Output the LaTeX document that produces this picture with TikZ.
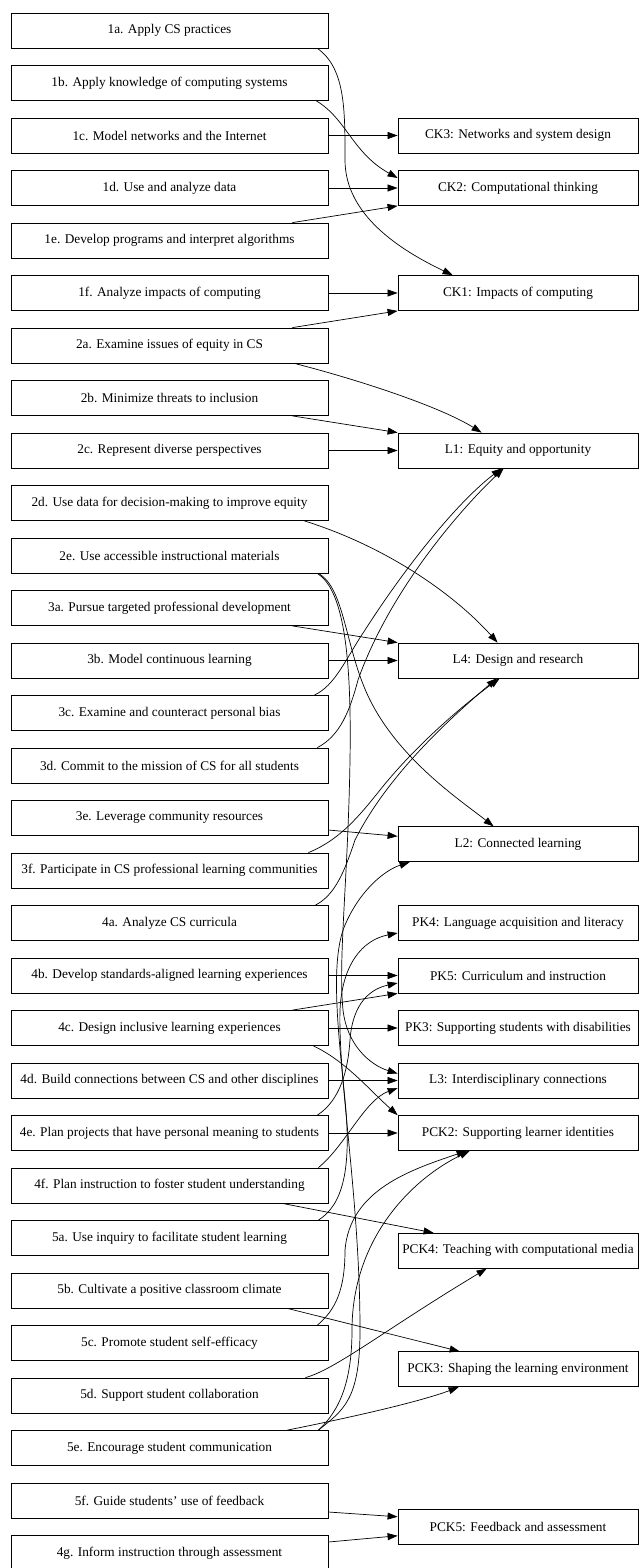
\documentclass[tikz,border=0pt]{standalone}
\usepackage{fontspec}
\setmainfont{Liberation Serif}
\usetikzlibrary{arrows.meta}
\begin{document}
\begin{tikzpicture}[x=1pt,y=-1pt,
  box/.style={draw=black, line width=0.8pt, minimum height=35pt, inner sep=0pt, font=\fontsize{13.3}{15}\selectfont},
  lbox/.style={box, minimum width=317pt},
  rbox/.style={box, minimum width=240pt},
  edge/.style={line width=0.7pt, -{Triangle[length=10pt,width=7pt]}}]
\useasboundingbox (0,0) rectangle (639,1568);
% left column
\node[lbox] (n1a) at (169.5,30.5)   {1a. Apply CS practices};
\node[lbox] (n1b) at (169.5,83)     {1b. Apply knowledge of computing systems};
\node[lbox] (n1c) at (169.5,135.5)  {1c. Model networks and the Internet};
\node[lbox] (n1d) at (169.5,188)    {1d. Use and analyze data};
\node[lbox] (n1e) at (169.5,240.5)  {1e. Develop programs and interpret algorithms};
\node[lbox] (n1f) at (169.5,293)    {1f. Analyze impacts of computing};
\node[lbox] (n2a) at (169.5,345.5)  {2a. Examine issues of equity in CS};
\node[lbox] (n2b) at (169.5,398)    {2b. Minimize threats to inclusion};
\node[lbox] (n2c) at (169.5,450.5)  {2c. Represent diverse perspectives};
\node[lbox] (n2d) at (169.5,503)    {2d. Use data for decision-making to improve equity};
\node[lbox] (n2e) at (169.5,555.5)  {2e. Use accessible instructional materials};
\node[lbox] (n3a) at (169.5,608)    {3a. Pursue targeted professional development};
\node[lbox] (n3b) at (169.5,660.5)  {3b. Model continuous learning};
\node[lbox] (n3c) at (169.5,713)    {3c. Examine and counteract personal bias};
\node[lbox] (n3d) at (169.5,765.5)  {3d. Commit to the mission of CS for all students};
\node[lbox] (n3e) at (169.5,818)    {3e. Leverage community resources};
\node[lbox] (n3f) at (169.5,870.5)  {3f. Participate in CS professional learning communities};
\node[lbox] (n4a) at (169.5,923)    {4a. Analyze CS curricula};
\node[lbox] (n4b) at (169.5,975.5)  {4b. Develop standards-aligned learning experiences};
\node[lbox] (n4c) at (169.5,1028)   {4c. Design inclusive learning experiences};
\node[lbox] (n4d) at (169.5,1080.5) {4d. Build connections between CS and other disciplines};
\node[lbox] (n4e) at (169.5,1133)   {4e. Plan projects that have personal meaning to students};
\node[lbox] (n4f) at (169.5,1185.5) {4f. Plan instruction to foster student understanding};
\node[lbox] (n5a) at (169.5,1238)   {5a. Use inquiry to facilitate student learning};
\node[lbox] (n5b) at (169.5,1290.5) {5b. Cultivate a positive classroom climate};
\node[lbox] (n5c) at (169.5,1343)   {5c. Promote student self-efficacy};
\node[lbox] (n5d) at (169.5,1395.5) {5d. Support student collaboration};
\node[lbox] (n5e) at (169.5,1448)   {5e. Encourage student communication};
\node[lbox] (n5f) at (169.5,1500.5) {5f. Guide students’ use of feedback};
\node[lbox] (n4g) at (169.5,1553)   {4g. Inform instruction through assessment};
% right column
\node[rbox] (ck3) at (518,135.5)   {CK3: Networks and system design};
\node[rbox] (ck2) at (518,188)     {CK2: Computational thinking};
\node[rbox] (ck1) at (518,293)     {CK1: Impacts of computing};
\node[rbox] (l1)  at (518,450.5)   {L1: Equity and opportunity};
\node[rbox] (l4)  at (518,660.5)   {L4: Design and research};
\node[rbox] (l2)  at (518,844.25)  {L2: Connected learning};
\node[rbox] (pk4) at (518,923)     {PK4: Language acquisition and literacy};
\node[rbox] (pk5) at (518,975.5)   {PK5: Curriculum and instruction};
\node[rbox] (pk3) at (518,1028)    {PK3: Supporting students with disabilities};
\node[rbox] (l3)  at (518,1080.5)  {L3: Interdisciplinary connections};
\node[rbox] (pck2) at (518,1133)   {PCK2: Supporting learner identities};
\node[rbox] (pck4) at (518,1250.75) {PCK4: Teaching with computational media};
\node[rbox] (pck3) at (518,1369.25) {PCK3: Shaping the learning environment};
\node[rbox] (pck5) at (518,1526.75) {PCK5: Feedback and assessment};
% straight edges
\draw[edge] (n1c.east) -- (ck3.west);
\draw[edge] (n1d.east) -- (ck2.west);
\draw[edge] (n1f.east) -- (ck1.west);
\draw[edge] (n2c.east) -- (l1.west);
\draw[edge] (n3b.east) -- (l4.west);
\draw[edge] (n4b.east) -- (pk5.west);
\draw[edge] (n4c.east) -- (pk3.west);
\draw[edge] (n4d.east) -- (l3.west);
\draw[edge] (n4e.east) -- (pck2.west);
\draw[edge] ([xshift=-36pt]n1e.north east) -- (ck2.south west);
\draw[edge] ([xshift=-36pt]n2a.north east) -- (ck1.south west);
\draw[edge] ([xshift=-36pt]n2b.south east) -- (l1.north west);
\draw[edge] ([xshift=-36pt]n3a.south east) -- (l4.north west);
\draw[edge] ([xshift=-36pt]n4c.north east) -- (pk5.south west);
\draw[edge] ([yshift=-12pt]n3e.east) -- ([yshift=8pt]l2.west);
\draw[edge] ([yshift=-11.5pt]n5f.east) -- ([yshift=10pt]pck5.west);
\draw[edge] ([yshift=11pt]n4g.east) -- ([yshift=-9pt]pck5.west);
\draw[edge] ([xshift=-46pt]n4f.south east) -- ([xshift=36pt]pck4.north west);
\draw[edge] ([xshift=-41pt]n5b.south east) -- ([xshift=62pt]pck3.north west);
\draw[edge] ([xshift=-41pt]n5e.north east) .. controls +(60,-12) and +(-40,15) .. ([xshift=61pt]pck3.south west);
% curved edges
\draw[edge] ([xshift=-11pt]n1a.south east) .. controls +(28,20) and (345,110) .. (345,160) .. controls (345,215) and (400,250) .. ([xshift=55pt]ck1.north west);
\draw[edge] ([xshift=-12pt]n1b.south east) .. controls +(30,18) and +(-45,-25) .. ([yshift=10pt]ck2.west);
\draw[edge] ([xshift=-34pt]n2a.south east) .. controls +(70,18) and +(-40,-25) .. ([xshift=84pt]l1.north west);
\draw[edge] ([xshift=-24pt]n2d.south east) .. controls +(80,25) and +(-45,-50) .. ([xshift=100pt]l4.north west);
\draw[edge] ([xshift=-10pt]n2e.south east) .. controls +(27,15) and (345,650) .. (370,700) .. controls (400,760) and (460,800) .. ([xshift=96pt]l2.north west);
\draw[edge] ([xshift=-11pt]n2e.south east) .. controls +(23,15) and (352,640) .. (350,760) .. controls (348,880) and (338,960) .. (343,1010) .. controls (347,1045) and (370,1065) .. ([yshift=7pt]l3.west);
\draw[edge] ([xshift=-14pt]n3c.north east) .. controls +(21,-10) and (345,660) .. (365,630) .. controls (410,560) and (460,500) .. ([xshift=104pt]l1.south west);
\draw[edge] ([xshift=-11pt]n3d.north east) .. controls +(23,-12) and (350,710) .. (358,680) .. controls (390,590) and (460,510) .. ([xshift=106pt]l1.south west);
\draw[edge] ([xshift=-20pt]n3f.north east) .. controls +(32,-13) and (360,815) .. (380,790) .. controls (420,740) and (470,700) .. ([xshift=102pt]l4.south west);
\draw[edge] ([xshift=-13pt]n4a.north east) .. controls +(20,-10) and (345,870) .. (355,840) .. controls (390,770) and (460,710) .. ([xshift=99pt]l4.south west);
\draw[edge] ([xshift=-15pt]n4c.south east) .. controls +(32,15) and +(-28,-25) .. (pck2.north west);
\draw[edge] ([xshift=-11pt]n4e.north east) .. controls +(23,-15) and (348,1070) .. (350,1040) .. controls (352,1010) and (365,990) .. ([yshift=-7.5pt]pk5.west);
\draw[edge] ([xshift=-10pt]n4f.north east) .. controls +(27,-22) and +(-33,12) .. ([yshift=-7.5pt]l3.west);
\draw[edge] ([xshift=-10pt]n5a.north east) .. controls +(24,-15) and (352,1170) .. (345,1100) .. controls (338,1030) and (330,960) .. (345,925) .. controls (360,890) and (385,870) .. ([xshift=12pt]l2.south west);
\draw[edge] ([xshift=-11pt]n5c.north east) .. controls +(18,-15) and (345,1290) .. (345,1250) .. controls (350,1190) and (410,1170) .. ([xshift=69pt]pck2.south west);
\draw[edge] ([xshift=-10pt]n5e.north east) .. controls +(22,-20) and (352,1380) .. (352,1330) .. controls (352,1240) and (410,1180) .. ([xshift=72pt]pck2.south west);
\draw[edge] ([xshift=-10pt]n5e.north east) .. controls +(25,-20) and (360,1400) .. (360,1330) .. controls (360,1200) and (338,1080) .. (340,1010) .. controls (342,965) and (362,940) .. ([yshift=-10pt]pk4.west);
\draw[edge] ([xshift=-23pt]n5d.north east) .. controls +(30,-8) and +(-100,60) .. ([xshift=89pt]pck4.south west);
\end{tikzpicture}
\end{document}
